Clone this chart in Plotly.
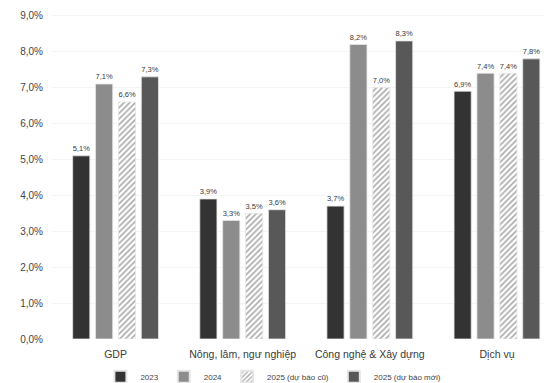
import plotly.graph_objects as go

categories = ["GDP", "Nông, lâm, ngư nghiệp", "Công nghệ & Xây dựng", "Dịch vụ"]
series_names = ["2023", "2024", "2025 (dự báo cũ)", "2025 (dự báo mới)"]
v2023 = [5.1, 3.9, 3.7, 6.9]
v2024 = [7.1, 3.3, 8.2, 7.4]
v2025_old = [6.6, 3.5, 7.0, 7.4]
v2025_new = [7.3, 3.6, 8.3, 7.8]
y_ticks = [0, 1, 2, 3, 4, 5, 6, 7, 8, 9]

values = [v2023, v2024, v2025_old, v2025_new]
colors = ["#333333", "#8c8c8c", "#ffffff", "#585858"]

fig = go.Figure()
for name, vals, col in zip(series_names, values, colors):
    hatched = name == "2025 (dự báo cũ)"
    fig.add_trace(go.Bar(
        name=name,
        x=categories,
        y=vals,
        text=[f"{v:.1f}%".replace(".", ",") for v in vals],
        textposition="outside",
        textfont=dict(size=9, color="#3a3a3a"),
        cliponaxis=False,
        marker=dict(
            color=col,
            line=dict(color="#e6e6e6", width=0.8),
            pattern=dict(shape="/", fgcolor="#555555", bgcolor="#ffffff",
                         size=4, solidity=0.4) if hatched else None,
        ),
    ))

fig.update_layout(
    width=544, height=383,
    margin=dict(l=52, r=0, t=5, b=44, autoexpand=False),
    paper_bgcolor="white",
    plot_bgcolor="white",
    barmode="group",
    bargap=0.28,
    bargroupgap=0.25,
    separators=",.",
    font=dict(family="Liberation Sans, Arial, sans-serif", size=9, color="#444"),
    showlegend=True,
    legend=dict(orientation="h", x=0.45, xanchor="center",
                yref="container", y=0.016, yanchor="middle",
                font=dict(size=8, color="#444"), itemwidth=30,
                itemsizing="constant", traceorder="normal"),
    xaxis=dict(range=[-0.5, 3.37], showline=False, ticks="",
               tickfont=dict(size=10.5, color="#3a3a3a"), ticklabelstandoff=7),
    yaxis=dict(range=[0, 9.3], tickvals=y_ticks,
               ticktext=[f"{t:.1f}%".replace(".", ",") for t in y_ticks],
               showgrid=True, gridcolor="#f4f4f4", zeroline=False,
               tickfont=dict(size=10, color="#444"), ticklabelstandoff=8),
)

fig.write_html("out.html")
